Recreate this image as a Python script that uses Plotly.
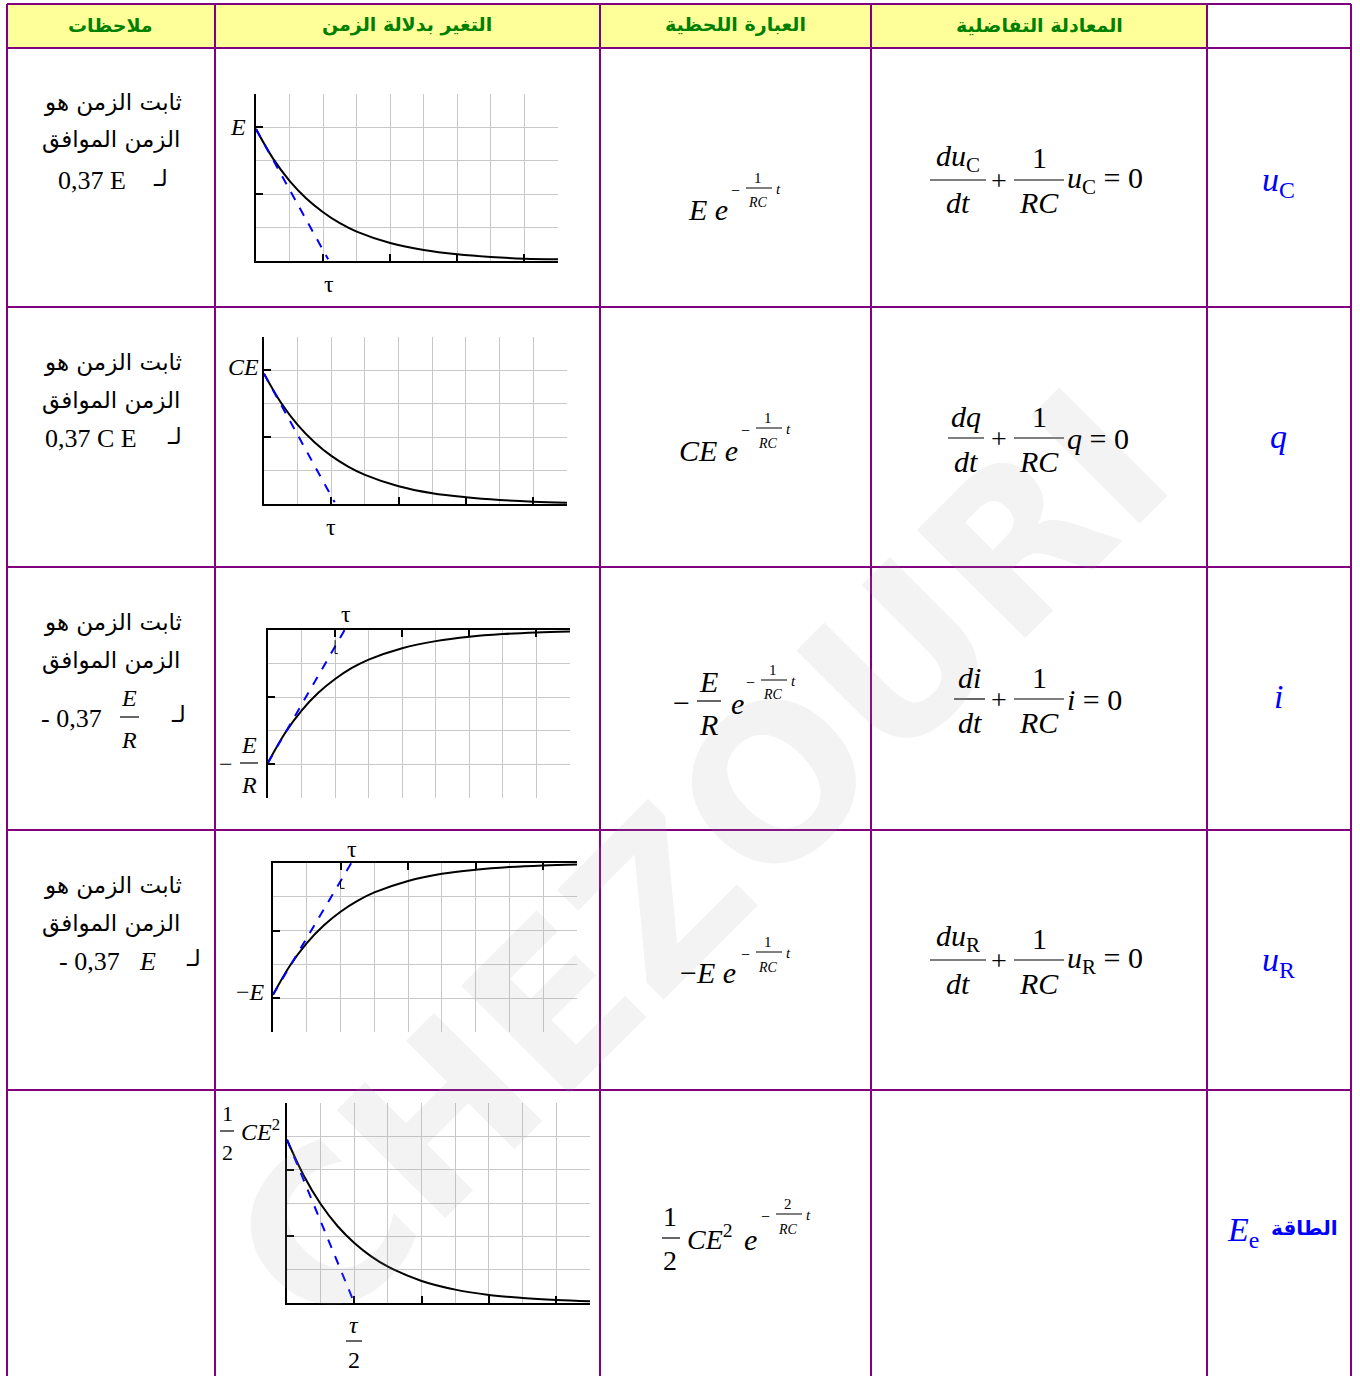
import plotly.graph_objects as go

W, H = 1360, 1376

# ---------------- data ----------------
T_X = [0, 0.5, 1, 1.5, 2, 2.5, 3, 4, 5, 6, 7, 8, 9]
UC_Y = [3.95, 3.08, 2.40, 1.87, 1.46, 1.13, 0.88, 0.54, 0.33, 0.20, 0.12, 0.07, 0.05]
Q_Y = [3.90, 3.04, 2.37, 1.85, 1.44, 1.12, 0.87, 0.53, 0.32, 0.20, 0.12, 0.07, 0.04]
I_Y = [-3.95, -3.08, -2.40, -1.87, -1.46, -1.13, -0.88, -0.54, -0.33, -0.20, -0.12, -0.07, -0.04]
UR_Y = [-3.90, -3.04, -2.37, -1.85, -1.44, -1.12, -0.87, -0.53, -0.32, -0.20, -0.12, -0.07, -0.04]
EE_Y = [4.90, 3.82, 2.97, 2.31, 1.80, 1.40, 1.09, 0.66, 0.40, 0.24, 0.15, 0.09, 0.05]

TAN_UC = ([0, 2.15], [3.95, 0.05])
TAN_Q = ([0, 2.10], [3.90, 0.05])
TAN_I = ([0, 2.37], [-3.95, 0.15])
TAN_UR = ([0, 2.39], [-3.90, 0.12])
TAN_EE = ([0, 2.00], [4.90, 0.00])

MARK_I = ([2, 2, 2.08], [-0.30, -0.70, -0.70])
MARK_UR = ([2, 2, 2.12], [-0.50, -0.75, -0.75])

HEADERS = ["ملاحظات", "التغير بدلالة الزمن", "العبارة اللحظية", "المعادلة التفاضلية"]
AR_LINE1 = "ثابت الزمن هو"
AR_LINE2 = "الزمن الموافق"
AR_LAM = "لـ"
ROW_NAMES = ["<i>u</i><sub>C</sub>", "<i>q</i>", "<i>i</i>", "<i>u</i><sub>R</sub>", "<i>E</i><sub>e</sub>"]
ENERGY_AR = "الطاقة"
TAU = "τ"

# ---------------- helpers ----------------
SERIF = "Liberation Serif, Times New Roman, DejaVu Serif, serif"
ARAB = "DejaVu Sans, Liberation Serif, serif"
PURPLE = "#800080"
GRID = "#c8c8c8"

annotations = []
shapes = []


def px(x):
    return x / W


def py(y):
    return 1 - y / H


def txt(x, y, s, size, color="black", family=SERIF, xanchor="center", yanchor="middle"):
    annotations.append(dict(x=px(x), y=py(y), xref="paper", yref="paper", text=s,
                            showarrow=False, font=dict(size=size, color=color, family=family),
                            xanchor=xanchor, yanchor=yanchor, borderpad=0))


def hbar(x0, x1, y, width=1.2, color="black"):
    shapes.append(dict(type="line", xref="paper", yref="paper", x0=px(x0), x1=px(x1),
                       y0=py(y), y1=py(y), line=dict(color=color, width=width)))


# ---------------- watermark ----------------
annotations.append(dict(x=px(700), y=py(860), xref="paper", yref="paper", text="<b>CHEZOURI</b>",
                        showarrow=False, textangle=-45,
                        font=dict(size=210, color="rgba(160,160,160,0.13)", family="DejaVu Sans")))

# ---------------- table ----------------
cols = [7, 215, 600, 871, 1207, 1351]
rows = [4, 48, 307, 567, 830, 1090]
shapes.append(dict(type="rect", xref="paper", yref="paper", x0=px(7), x1=px(1207), y0=py(48), y1=py(4),
                    fillcolor="#ffff99", line=dict(width=0), layer="below"))
for c in cols:
    shapes.append(dict(type="line", xref="paper", yref="paper", x0=px(c), x1=px(c), y0=py(4), y1=py(1376),
                       line=dict(color=PURPLE, width=2)))
for r in rows:
    shapes.append(dict(type="line", xref="paper", yref="paper", x0=px(7), x1=px(1351), y0=py(r), y1=py(r),
                       line=dict(color=PURPLE, width=2)))

for hx, h in zip([110, 407, 735, 1039], HEADERS):
    txt(hx, 25, "<b>" + h + "</b>", 19, color="#008000", family=ARAB)

# ---------------- left column notes ----------------
for yc in [102, 362, 622, 885]:
    txt(113, yc, AR_LINE1, 23, family=ARAB)
    txt(111, yc + 38, AR_LINE2, 23, family=ARAB)
txt(92, 180, "0,37 E", 26)
txt(160, 178, AR_LAM, 23, family=ARAB)
txt(91, 438, "0,37 C E", 26)
txt(175, 436, AR_LAM, 23, family=ARAB)
txt(71, 718, "- 0,37", 26)
txt(129, 698, "<i>E</i>", 24)
hbar(120, 139, 717)
txt(129, 740, "<i>R</i>", 24)
txt(178, 714, AR_LAM, 23, family=ARAB)
txt(89, 961, "- 0,37", 26)
txt(147, 961, "<i>E</i>", 26)
txt(193, 958, AR_LAM, 23, family=ARAB)


# ---------------- expression column ----------------
def expo(x0, y0, num):
    txt(x0, y0 + 2, "−", 16)
    txt(x0 + 23, y0 - 10, num, 15)
    hbar(x0 + 11, x0 + 37, y0, 1)
    txt(x0 + 23, y0 + 15, "<i>RC</i>", 14)
    txt(x0 + 43, y0 + 1, "<i>t</i>", 15)


txt(708, 210, "<i>E e</i>", 30)
expo(735, 188, "1")
txt(708, 450, "<i>CE e</i>", 30)
expo(745, 428, "1")
txt(681, 702, "−", 30)
txt(708, 681, "<i>E</i>", 30)
hbar(697, 721, 701)
txt(708, 724, "<i>R</i>", 30)
txt(737, 703, "<i>e</i>", 30)
expo(750, 680, "1")
txt(708, 972, "−<i>E e</i>", 30)
expo(745, 952, "1")
txt(670, 1216, "1", 28)
hbar(662, 680, 1238)
txt(670, 1260, "2", 28)
txt(710, 1237, "<i>CE</i><sup>2</sup>", 28)
txt(750, 1239, "<i>e</i>", 30)
expo(765, 1214, "2")


# ---------------- differential equations ----------------
def deq(yc, num, bx0, bx1, var):
    cx = (bx0 + bx1) / 2
    txt(cx, yc - 22, num, 30)
    hbar(bx0, bx1, yc)
    txt(cx, yc + 23, "<i>dt</i>", 30)
    txt(999, yc, "+", 28)
    txt(1039, yc - 22, "1", 30)
    hbar(1014, 1064, yc)
    txt(1039, yc + 23, "<i>RC</i>", 30)
    txt(1066, yc, var + " = 0", 30, xanchor="left")


deq(180, "<i>du</i><sub>C</sub>", 930, 986, "<i>u</i><sub>C</sub>")
deq(438, "<i>dq</i>", 948, 984, "<i>q</i>")
deq(699, "<i>di</i>", 954, 985, "<i>i</i>")
deq(960, "<i>du</i><sub>R</sub>", 930, 986, "<i>u</i><sub>R</sub>")

# ---------------- row names ----------------
for yy, nm in zip([182, 437, 697, 962], ROW_NAMES[:4]):
    txt(1278, yy, nm, 34, color="#0000ff")
txt(1243, 1232, ROW_NAMES[4], 34, color="#0000ff")
txt(1304, 1228, "<b>" + ENERGY_AR + "</b>", 20, color="#0000ff", family=ARAB)

# ---------------- mini charts ----------------
charts = [
    (256, 558, 94, 261, [0, 5], [2, 4, 6, 8], [2, 4], [1, 3, 5], "bottom", UC_Y, TAN_UC),
    (264, 567, 337, 504, [0, 5], [2, 4, 6, 8], [2, 4], [1, 3, 5], "bottom", Q_Y, TAN_Q),
    (268, 570, 630, 798, [-5, 0], [2, 4, 6, 8], [-2, -4], [-1, -3, -5], "top", I_Y, TAN_I),
    (273, 577, 863, 1032, [-5, 0], [2, 4, 6, 8], [-2, -4], [-1, -3, -5], "top", UR_Y, TAN_UR),
    (287, 590, 1103, 1303, [0, 6], [2, 4, 6, 8], [2, 4, 6], [1, 3, 5], "bottom", EE_Y, TAN_EE),
]

fig = go.Figure()
layout_axes = {}
for i, (x0, x1, yt, yb, yr, xmaj, ymaj, ymin, side, cy, tg) in enumerate(charts, start=1):
    sfx = "" if i == 1 else str(i)
    xa, ya = "x" + sfx, "y" + sfx
    common = dict(showline=True, linecolor="black", linewidth=2, ticks="inside", ticklen=7,
                  tickwidth=2, tickcolor="black", showticklabels=False, showgrid=True,
                  gridcolor=GRID, gridwidth=1, zeroline=False, fixedrange=True, tickmode="array")
    layout_axes["xaxis" + sfx] = dict(domain=[px(x0), px(x1)], range=[0, 9.001], anchor=ya, side=side,
                                      tickvals=xmaj,
                                      minor=dict(tickmode="array", tickvals=[1, 3, 5, 7, 9],
                                                 showgrid=True, gridcolor=GRID, gridwidth=1, ticks=""),
                                      **common)
    ylo, yhi = yr
    layout_axes["yaxis" + sfx] = dict(domain=[py(yb), py(yt)], range=[ylo - 0.001, yhi + 0.001], anchor=xa,
                                      tickvals=ymaj,
                                      minor=dict(tickmode="array", tickvals=ymin,
                                                 showgrid=True, gridcolor=GRID, gridwidth=1, ticks=""),
                                      **common)
    fig.add_trace(go.Scatter(x=T_X, y=cy, mode="lines", line=dict(color="black", width=2, shape="spline"),
                             xaxis=xa, yaxis=ya, hoverinfo="skip", showlegend=False))
    fig.add_trace(go.Scatter(x=tg[0], y=tg[1], mode="lines", line=dict(color="#0000ff", width=2, dash="dash"),
                             xaxis=xa, yaxis=ya, hoverinfo="skip", showlegend=False))

for i, mk in [(3, MARK_I), (4, MARK_UR)]:
    fig.add_trace(go.Scatter(x=mk[0], y=mk[1], mode="lines", line=dict(color="black", width=1),
                             xaxis="x" + str(i), yaxis="y" + str(i), hoverinfo="skip", showlegend=False))

# chart labels
txt(238, 127, "<i>E</i>", 24)
txt(329, 284, TAU, 24)
txt(243, 367, "<i>CE</i>", 24)
txt(331, 527, TAU, 24)
txt(346, 614, TAU, 24)
txt(226, 764, "−", 24)
txt(249, 745, "<i>E</i>", 24)
hbar(240, 258, 763)
txt(249, 785, "<i>R</i>", 24)
txt(352, 849, TAU, 24)
txt(250, 992, "−<i>E</i>", 24)
txt(227, 1113, "1", 22)
hbar(220, 234, 1131)
txt(227, 1152, "2", 22)
txt(260, 1130, "<i>CE</i><sup>2</sup>", 24)
txt(354, 1325, "<i>τ</i>", 24)
hbar(346, 362, 1341)
txt(354, 1360, "2", 24)

fig.update_layout(width=W, height=H, autosize=False, margin=dict(l=0, r=0, t=0, b=0),
                  paper_bgcolor="white", plot_bgcolor="rgba(0,0,0,0)", showlegend=False,
                  annotations=annotations, shapes=shapes, **layout_axes)

fig.write_html("out.html", config={"displayModeBar": False, "staticPlot": True},
               post_script="document.body.style.margin='0';document.body.style.overflow='hidden';")
